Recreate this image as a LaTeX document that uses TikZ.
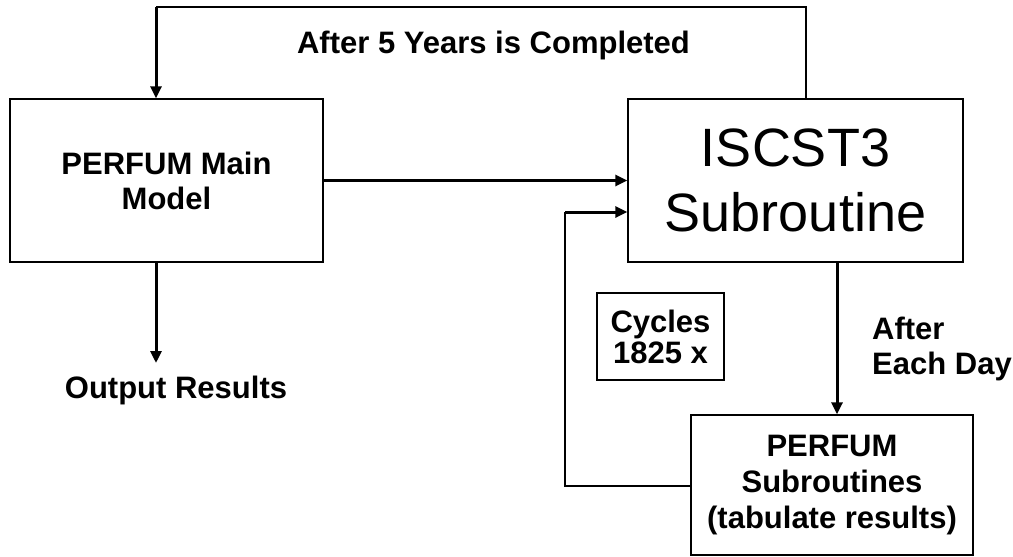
\documentclass[tikz,border=0pt]{standalone}
\usepackage{fontspec}
\setmainfont{Liberation Sans}
\usepackage{tikz}
\usetikzlibrary{arrows.meta}

\begin{document}
\begin{tikzpicture}[x=1pt,y=-1pt]
	    \tikzstyle{every node}=[font=\bfseries\fontsize{31}{35}\selectfont,align=center,inner sep=0pt]
	    \tikzstyle{block}=[draw,line width=1.4pt]
	    \tikzstyle{link}=[line width=1.4pt]
	    \tikzstyle{flow}=[line width=3pt,-{Triangle[length=12pt,width=11pt]}]
	    \useasboundingbox (0,0) rectangle (1013,557);
	    % boxes
	    \node[block,minimum width=313pt,minimum height=163pt] (main) at (166.5,180.5) {PERFUM Main\\Model};
	    \node[block,minimum width=335pt,minimum height=163pt,font=\fontsize{54}{65}\selectfont] (iscst) at (795.5,180.5) {ISCST3\\Subroutine};
	    \node[block,minimum width=127pt,minimum height=87pt,font=\bfseries\fontsize{31}{31}\selectfont] (cycles) at (660.5,336.5) {Cycles\\1825 x};
	    \node[block,minimum width=282pt,minimum height=140pt,font=\bfseries\fontsize{31}{36}\selectfont] (subs) at (832,485) {PERFUM\\Subroutines\\(tabulate results)};
	    % labels
	    \node[anchor=base] (years) at (493.5,53) {After 5 Years is Completed};
	    \node[anchor=base] (output) at (176,398) {Output Results};
	    \node[anchor=north west,align=left] (day) at (872,317) {After\\Each Day};
	    % connectors
	    \coordinate (topR) at (806,7);
	    \coordinate (topL) at (156,7);
	    \coordinate (outX) at (156,363);
	    \coordinate (dayX) at (837,0);
	    \coordinate (loopB) at (565,486);
	    \coordinate (loopT) at (565,212);
	    \draw[link] (iscst.north -| topR) -- (topR) -- (topL);
	    \draw[flow] (topL) -- (main.north -| topL);
	    \draw[flow] (main.east) -- (iscst.west);
	    \draw[flow] (main.south -| outX) -- (outX);
	    \draw[flow] (iscst.south -| dayX) -- (subs.north -| dayX);
	    \draw[link] (subs.west |- loopB) -- (loopB) -- (loopT);
	    \draw[flow] (loopT) -- (loopT -| iscst.west);
\end{tikzpicture}
\end{document}
